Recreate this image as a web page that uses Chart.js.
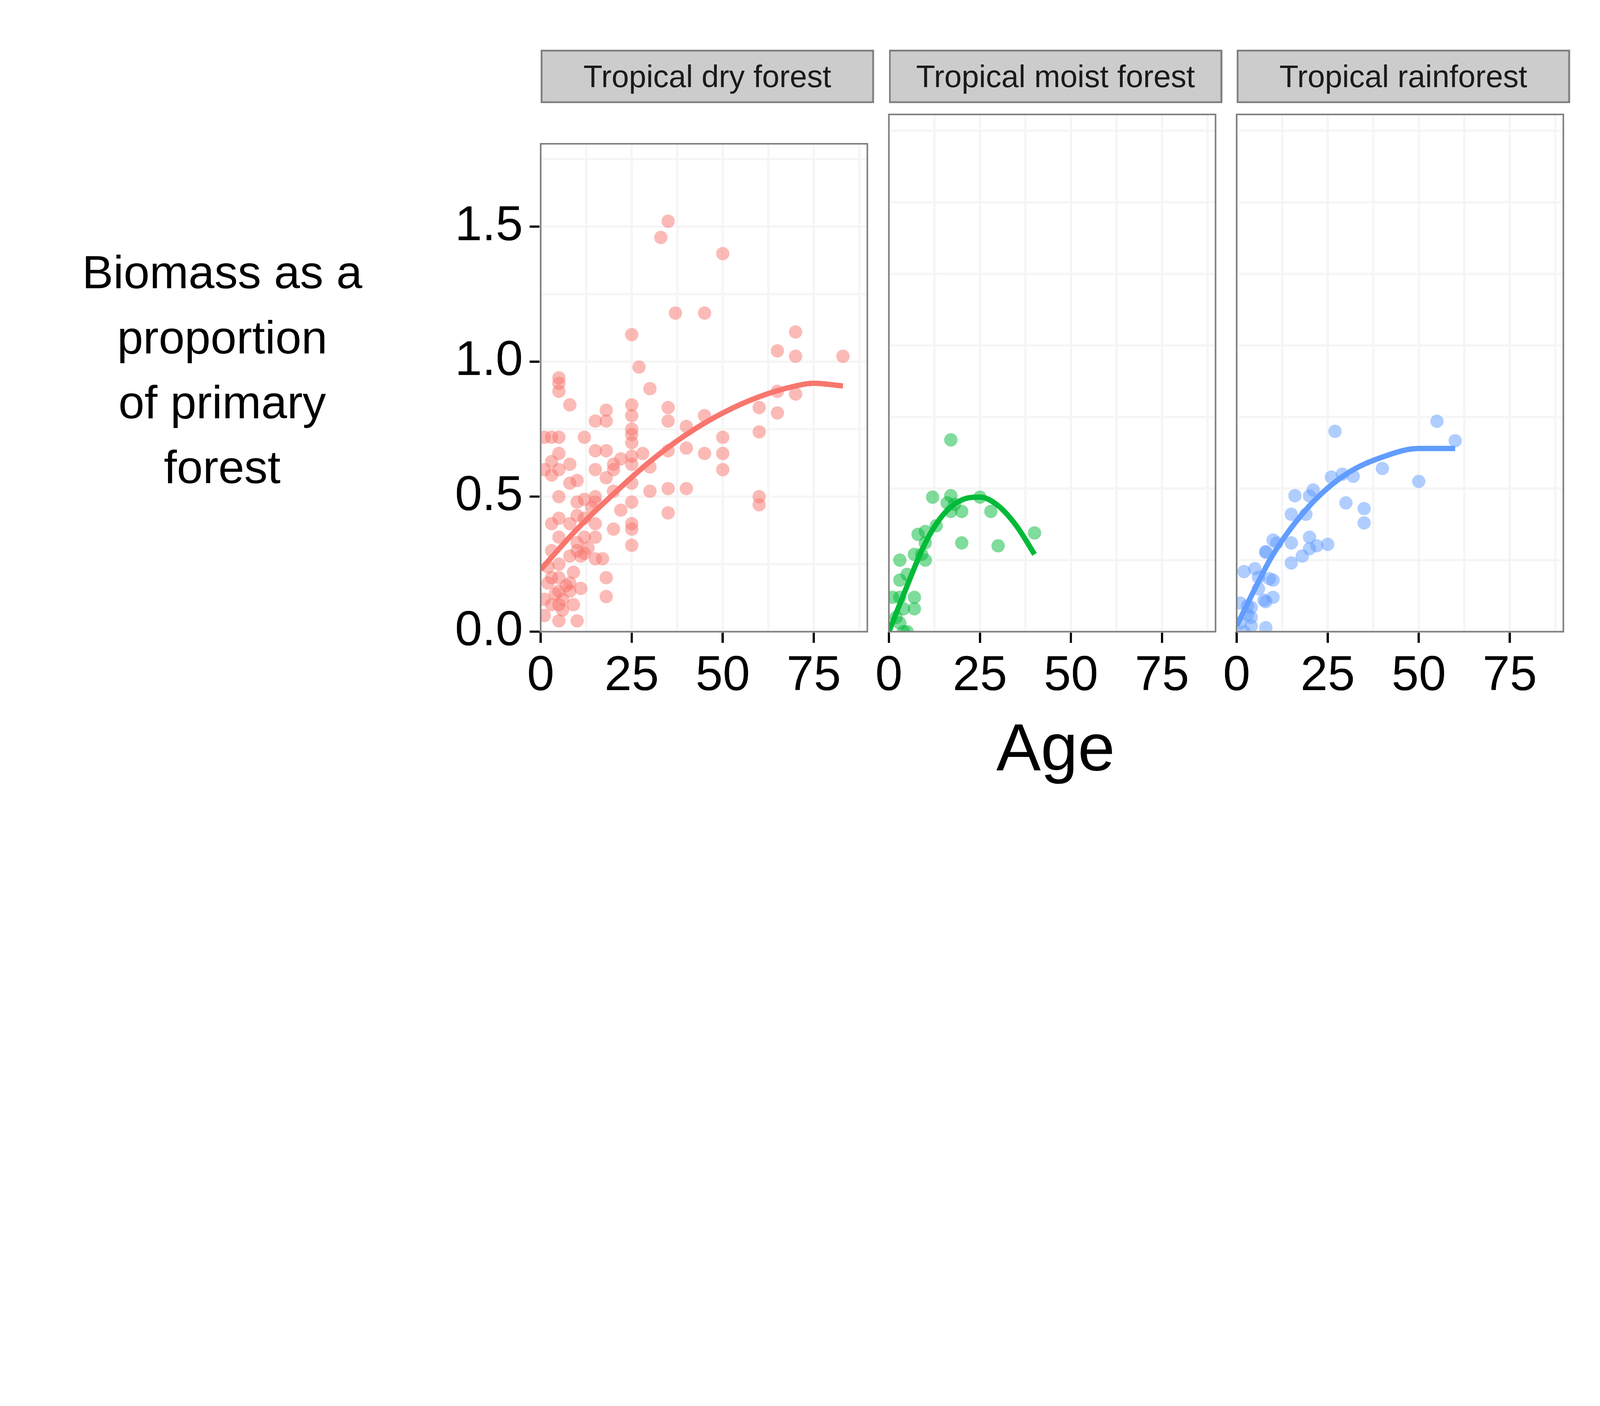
<!DOCTYPE html>
<html lang="en">
<head>
<meta charset="UTF-8">
<title>Biomass recovery by forest type</title>
<script src="https://cdn.jsdelivr.net/npm/chart.js"></script>
<style>
  html, body { margin: 0; padding: 0; background: #fff; overflow: hidden; font-family: 'Liberation Sans', Arial, sans-serif; }
  #page { position: absolute; left: 0; top: 0; width: 7200px; height: 3600px; transform-origin: 0 0; }
  .strip { position: absolute; top: 224px; height: 240px; background: #cccccc; border: 8px solid #7f7f7f;
           box-sizing: border-box; display: flex; align-items: center; justify-content: center; font-size: 140px; color: #1a1a1a; }
  canvas { position: absolute; }
  #ylab { position: absolute; left: 100px; width: 1800px; top: 1080px; text-align: center; font-size: 210px; line-height: 292px; }
  #xlab { position: absolute; left: 4000px; width: 1500px; top: 3190px; text-align: center; font-size: 300px; }
</style>
</head>
<body>
<div id="page">
  <div id="ylab">Biomass as a<br>proportion<br>of primary<br>forest</div>
  <div id="xlab">Age</div>
</div>
<script>
// Panels (forest types)
const panels = ['Tropical dry forest', 'Tropical moist forest', 'Tropical rainforest'];
const colors = ['248,118,109', '0,186,56', '97,156,255'];
const xTicks = [0, 25, 50, 75];
const yTicks = [0, 0.5, 1.0, 1.5];

// Observations: [age, biomass proportion]
const dryPoints = [
  [33,1.46],[35,1.52],[50,1.40],[25,1.10],[27,0.98],[37,1.18],[45,1.18],[30,0.90],[70,1.11],[65,1.04],
  [70,1.02],[83,1.02],[65,0.89],[70,0.88],[60,0.83],[60,0.74],[60,0.50],[60,0.47],[65,0.81],[50,0.72],
  [50,0.66],[50,0.60],[45,0.80],[45,0.66],[40,0.76],[40,0.68],[40,0.53],[35,0.83],[35,0.78],[35,0.67],
  [35,0.53],[35,0.44],[30,0.61],[30,0.52],[25,0.84],[25,0.80],[25,0.75],[25,0.73],[25,0.70],[25,0.65],
  [25,0.62],[25,0.55],[25,0.48],[25,0.40],[25,0.38],[25,0.32],[20,0.60],[20,0.52],[18,0.82],[18,0.78],
  [18,0.67],[18,0.57],[15,0.78],[15,0.67],[15,0.60],[15,0.50],[15,0.48],[15,0.40],[15,0.35],[12,0.72],
  [12,0.49],[12,0.42],[12,0.35],[10,0.56],[10,0.48],[10,0.43],[10,0.33],[10,0.30],[8,0.84],[8,0.62],
  [8,0.55],[8,0.40],[8,0.28],[8,0.18],[8,0.15],[5,0.94],[5,0.92],[5,0.89],[5,0.72],[5,0.66],[5,0.60],
  [5,0.50],[5,0.42],[5,0.35],[5,0.25],[5,0.20],[5,0.15],[5,0.10],[5,0.04],[3,0.72],[3,0.63],[3,0.58],
  [3,0.40],[3,0.30],[3,0.20],[3,0.10],[2,0.18],[1,0.72],[1,0.60],[1,0.12],[1,0.06],[10,0.04],[15,0.27],
  [18,0.20],[20,0.38],[22,0.45],[18,0.13],[17,0.27],[12,0.29],[6,0.12],[7,0.17],[9,0.22],[11,0.28],
  [13,0.31],[20,0.62],[22,0.64],[28,0.66],[14,0.46],[6,0.08],[4,0.14],[2,0.24],[9,0.10],[11,0.16]
];
const moistPoints = [
  [17,0.67],[12,0.47],[17,0.475],[16,0.45],[18,0.445],[17,0.42],[20,0.42],[25,0.47],[28,0.42],[13,0.37],
  [8,0.34],[10,0.35],[10,0.31],[20,0.31],[30,0.30],[40,0.345],[7,0.27],[9,0.27],[10,0.25],[3,0.25],
  [5,0.2],[3,0.18],[7,0.12],[7,0.08],[3,0.12],[4,0.08],[3,0.03],[4,0.0],[1,0.12],[2,0.05],[5,0.0]
];
const rainPoints = [
  [27,0.70],[55,0.735],[60,0.667],[50,0.525],[40,0.57],[26,0.54],[29,0.55],[32,0.543],[30,0.45],[35,0.43],
  [35,0.38],[16,0.475],[20,0.474],[21,0.495],[15,0.41],[19,0.41],[20,0.33],[15,0.31],[10,0.32],[11,0.31],
  [8,0.28],[8,0.277],[20,0.29],[22,0.30],[25,0.305],[18,0.264],[15,0.24],[5,0.22],[6,0.19],[10,0.18],
  [9,0.185],[6,0.15],[8,0.105],[10,0.12],[7.5,0.11],[4,0.085],[4,0.05],[4,0.02],[8,0.014],[2,0.21],
  [3,0.06],[1,0.03],[2,0.0],[3,0.09],[1,0.1]
];

// Fitted trend lines: [age, biomass]
const dryCurve = [[0,0.23],[10,0.38],[20,0.51],[30,0.63],[40,0.73],[50,0.81],[60,0.87],[70,0.91],[75,0.92],[83,0.91]];
const moistCurve = [[0,0.0],[5,0.16],[10,0.31],[15,0.41],[20,0.46],[25,0.47],[30,0.44],[35,0.37],[40,0.27]];
const rainCurve = [[0,0.02],[5,0.15],[10,0.27],[20,0.44],[30,0.55],[40,0.61],[50,0.64],[60,0.64]];

const allPoints = [dryPoints, moistPoints, rainPoints];
const allCurves = [dryCurve, moistCurve, rainCurve];
const plotLefts = [2433, 4000, 5565];
const plotW = 1500, plotTop = 485, plotH = 2358;
const X_MAX = 89.7, Y_MAX = 1.807;

const toXY = arr => arr.map(p => ({ x: p[0], y: p[1] }));

// fit the 7200x3600 layout into whatever viewport we get
const page = document.getElementById('page');
const k = Math.min(window.innerWidth / 7200, window.innerHeight / 3600);
page.style.transform = 'scale(' + k + ')';

// light grid (major + minor) and panel border
const panelDeco = {
  id: 'panelDeco',
  beforeDatasetsDraw(chart) {
    const { ctx, chartArea: a, scales } = chart;
    ctx.save();
    ctx.strokeStyle = '#f5f5f5';
    ctx.lineWidth = 10;
    for (let v = 0; v <= X_MAX; v += 12.5) {
      const px = scales.x.getPixelForValue(v);
      ctx.beginPath(); ctx.moveTo(px, a.top); ctx.lineTo(px, a.bottom); ctx.stroke();
    }
    for (let v = 0; v <= Y_MAX; v += 0.25) {
      const py = scales.y.getPixelForValue(v);
      ctx.beginPath(); ctx.moveTo(a.left, py); ctx.lineTo(a.right, py); ctx.stroke();
    }
    ctx.restore();
  },
  afterDraw(chart) {
    const { ctx, chartArea: a } = chart;
    ctx.save();
    ctx.strokeStyle = '#7f7f7f';
    ctx.lineWidth = 7;
    ctx.strokeRect(a.left, a.top, a.right - a.left, a.bottom - a.top);
    ctx.restore();
  }
};

panels.forEach((name, i) => {
  const strip = document.createElement('div');
  strip.className = 'strip';
  strip.style.left = plotLefts[i] + 'px';
  strip.style.width = plotW + 'px';
  strip.textContent = name;
  page.appendChild(strip);

  const yW = i === 0 ? 700 : 150;
  const xH = 420;
  const cv = document.createElement('canvas');
  cv.width = yW + plotW; cv.height = plotH + xH;
  cv.style.left = (plotLefts[i] - yW) + 'px';
  cv.style.top = plotTop + 'px';
  page.appendChild(cv);

  const c = colors[i];
  new Chart(cv, {
    type: 'scatter',
    data: {
      datasets: [
        { data: toXY(allCurves[i]), showLine: true, pointRadius: 0, borderColor: 'rgb(' + c + ')',
          borderWidth: 24, cubicInterpolationMode: 'monotone', order: 0 },
        { data: toXY(allPoints[i]), pointRadius: 30, borderWidth: 0,
          backgroundColor: 'rgba(' + c + ',0.5)', order: 1 }
      ]
    },
    options: {
      responsive: false, animation: false, devicePixelRatio: 1,
      layout: { padding: 0 },
      plugins: { legend: { display: false }, tooltip: { enabled: false } },
      scales: {
        x: {
          type: 'linear', min: 0, max: X_MAX,
          afterBuildTicks: s => { s.ticks = xTicks.map(v => ({ value: v })); },
          afterFit: s => { s.height = xH; },
          border: { display: false },
          grid: { drawOnChartArea: false, color: '#000', tickLength: 50, lineWidth: 10 },
          ticks: { color: '#000', font: { size: 220, family: 'Liberation Sans' }, padding: 20, maxRotation: 0,
                   callback: v => String(v) }
        },
        y: {
          type: 'linear', min: 0, max: Y_MAX,
          afterBuildTicks: s => { s.ticks = yTicks.map(v => ({ value: v })); },
          afterFit: s => { s.width = yW; },
          border: { display: false },
          grid: { drawOnChartArea: false, drawTicks: i === 0, color: '#000', tickLength: 50, lineWidth: 10 },
          ticks: { display: i === 0, color: '#000', font: { size: 220, family: 'Liberation Sans' }, padding: 30,
                   callback: v => v.toFixed(1) }
        }
      }
    },
    plugins: [panelDeco]
  });
});
</script>
</body>
</html>
